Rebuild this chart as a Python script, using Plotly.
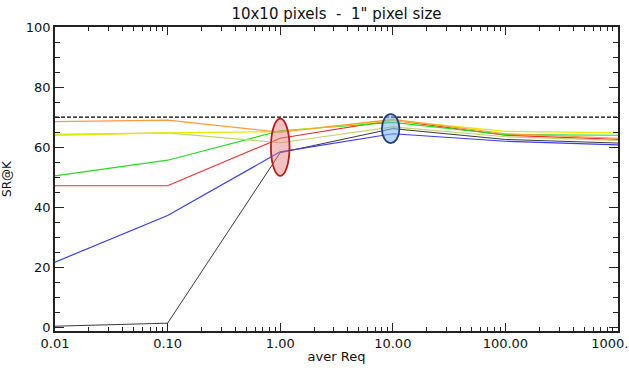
import plotly.graph_objects as go

# ---- data ----
x_vals = [0.01, 0.1, 1, 10, 100, 1000]
ref_level = [70, 70, 70, 70, 70, 70]
orange = [68.5, 69.0, 65.0, 69.3, 64.5, 63.0]
yellow = [64.0, 64.8, 65.2, 69.0, 65.3, 64.8]
khaki = [64.3, 64.8, 61.5, 66.8, 63.5, 62.3]
green = [50.5, 55.7, 65.5, 68.3, 64.2, 64.0]
red = [47.2, 47.2, 63.0, 69.0, 64.0, 62.6]
blue = [21.8, 37.3, 58.5, 64.5, 62.0, 60.8]
black = [0.5, 1.5, 58.2, 66.2, 62.6, 61.4]

x_tickvals = [0.01, 0.1, 1, 10, 100, 1000]
x_ticktext = ["0.01", "0.10", "1.00", "10.00", "100.00", "1000.00"]
y_tickvals = [0, 20, 40, 60, 80, 100]

series = [
    (black, "#3a3a3a", 1.0),
    (blue, "#3b3bf0", 1.2),
    (red, "#f03030", 1.2),
    (green, "#22dd22", 1.2),
    (khaki, "#c4d36a", 1.2),
    (yellow, "#e8e800", 1.4),
    (orange, "#ff9a3c", 1.2),
]

fig = go.Figure()
for ys, col, w in series:
    fig.add_trace(go.Scatter(x=x_vals, y=ys, mode="lines",
                             line=dict(color=col, width=w), showlegend=False))
fig.add_trace(go.Scatter(x=x_vals, y=ref_level, mode="lines",
                         line=dict(color="black", width=1.3, dash="4px,2px"),
                         showlegend=False))

# highlight ellipses (data coordinates)
fig.add_shape(type="circle", xref="x", yref="y", x0=0.827, x1=1.21, y0=50.5, y1=69.5,
              fillcolor="rgba(225,120,120,0.45)", line=dict(color="#c01818", width=1.8),
              layer="above")
fig.add_shape(type="circle", xref="x", yref="y", x0=8.0, x1=11.45, y0=61.4, y1=71.0,
              fillcolor="rgba(120,180,235,0.55)", line=dict(color="#1f3f7f", width=1.8),
              layer="above")

minor_x = [m * d for d in [0.01, 0.1, 1, 10, 100] for m in range(2, 10)]

font_fam = "DejaVu Sans"
fig.update_layout(
    width=629, height=370,
    margin=dict(l=55, r=11, t=27, b=39),
    paper_bgcolor="white", plot_bgcolor="white",
    title=dict(text="10x10 pixels  -  1\" pixel size", x=0.535, xanchor="center",
               y=0.962, yanchor="middle",
               font=dict(family=font_fam, size=15, color="#111")),
    font=dict(family=font_fam, color="#111"),
)
fig.update_xaxes(
    type="log", range=[-2, 3], automargin=False,
    tickvals=x_tickvals, ticktext=x_ticktext,
    ticks="inside", ticklen=8, tickwidth=1, tickcolor="#222",
    showline=True, linecolor="#222", linewidth=1.5, mirror="allticks",
    showgrid=False, zeroline=False,
    tickfont=dict(size=13), ticklabeloverflow="allow",
    minor=dict(tickvals=minor_x, ticks="inside", ticklen=4, tickcolor="#222", showgrid=False),
    title=dict(text="aver Req", font=dict(size=13), standoff=2),
)
fig.update_yaxes(
    range=[-1.1, 100], automargin=False,
    tickvals=y_tickvals,
    ticks="inside", ticklen=9, tickwidth=1, tickcolor="#222",
    showline=True, linecolor="#222", linewidth=1.5, mirror="allticks",
    showgrid=False, zeroline=False,
    tickfont=dict(size=13),
    minor=dict(dtick=5, ticks="inside", ticklen=5, tickcolor="#222", showgrid=False),
    title=dict(text="SR@K", font=dict(size=12), standoff=12),
)

fig.write_html("out.html")
